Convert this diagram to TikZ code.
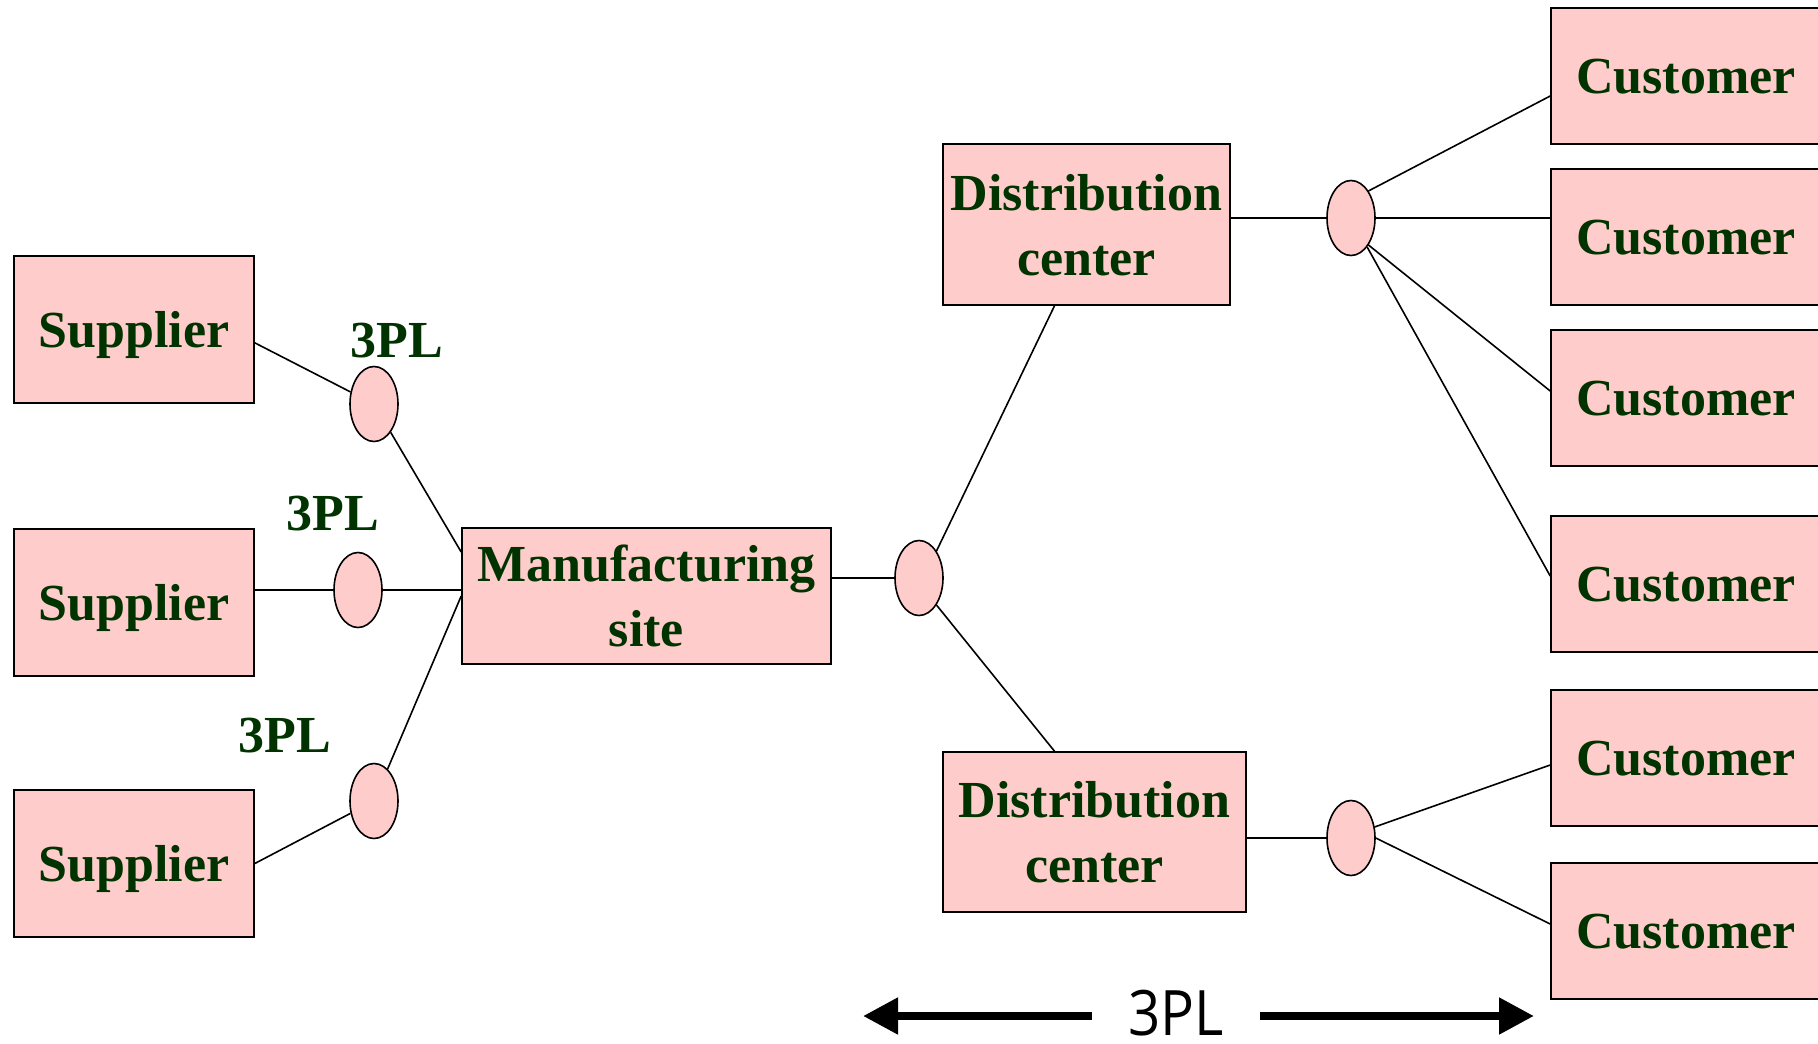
\documentclass[tikz,border=0pt]{standalone}
\usepackage{fontspec}
\setmainfont{Liberation Serif}
\newfontfamily\narrowsans[FakeStretch=0.9]{Open Sans}
\usepackage{tikz}
\usetikzlibrary{shapes}
\usetikzlibrary{arrows.meta}
\definecolor{boxpink}{HTML}{FFCCCC}
\definecolor{darkgreen}{HTML}{003300}

\begin{document}
\begin{tikzpicture}[x=0.75pt, y=-0.75pt,
				internal/.style={draw, rectangle, fill=boxpink, text=darkgreen, inner sep=0pt, text depth=0pt, line width=1.2pt, font=\fontsize{39}{48.75}\selectfont\bfseries},
				hub/.style={draw, ellipse, fill=boxpink, minimum width=36pt, minimum height=56.25pt, inner sep=0pt, line width=1.2pt},
				tag/.style={text=darkgreen, inner sep=0pt, font=\fontsize{39}{48.75}\selectfont\bfseries},
				link/.style={line width=1.2pt},
				span/.style={-{Triangle[length=26.25pt, width=26.25pt]}, line width=6pt},
				every text node part/.style={align=center}]
				\useasboundingbox (0,0) rectangle (1818,1043);
				\clip (0,0) rectangle (1818,1043);
				
				\node[internal, minimum width=180pt, minimum height=110.25pt](supplier1) at (134, 329.5) {Supplier};
				\node[internal, minimum width=180pt, minimum height=110.25pt](supplier2) at (134, 602.5) {Supplier};
				\node[internal, minimum width=180pt, minimum height=110.25pt](supplier3) at (134, 863.5) {Supplier};
				
				\node[hub](pl1) at (374, 404) {};
				\node[hub](pl2) at (358, 590) {};
				\node[hub](pl3) at (374, 801) {};
				\node[tag](lbl1) at (397, 341) {3PL};
				\node[tag](lbl2) at (333, 514) {3PL};
				\node[tag](lbl3) at (285, 736) {3PL};
				
				\node[internal, minimum width=276.75pt, minimum height=102pt](site) at (646.5, 596) {Manufacturing\\site};
				\node[hub](pl4) at (919, 578) {};
				
				\node[internal, minimum width=215.25pt, minimum height=120.75pt](dist1) at (1086.5, 224.5) {Distribution\\center};
				\node[internal, minimum width=227.25pt, minimum height=120pt](dist2) at (1094.5, 832) {Distribution\\center};
				\node[hub](pl5) at (1351, 218) {};
				\node[hub](pl6) at (1351, 838) {};
				
				\node[internal, minimum width=202.5pt, minimum height=102.4pt](cust1) at (1686, 76) {Customer};
				\node[internal, minimum width=202.5pt, minimum height=102.4pt](cust2) at (1686, 237) {Customer};
				\node[internal, minimum width=202.5pt, minimum height=102.4pt](cust3) at (1686, 398) {Customer};
				\node[internal, minimum width=202.5pt, minimum height=102.4pt](cust4) at (1686, 584) {Customer};
				\node[internal, minimum width=202.5pt, minimum height=102.4pt](cust5) at (1686, 758) {Customer};
				\node[internal, minimum width=202.5pt, minimum height=102.4pt](cust6) at (1686, 931) {Customer};
				
				\draw[link] ([yshift=-10pt]supplier1.east) edge (pl1);
				\draw[link] (supplier2.east |- pl2) edge (pl2);
				\draw[link] (supplier3.east) edge (pl3);
				\draw[link] (pl1) edge ([yshift=33pt]site.west);
				\draw[link] (pl2) edge (pl2 -| site.west);
				\draw[link] (pl3) edge (site.west);
				
				\draw[link] (site.east |- pl4) edge (pl4);
				\draw[link] (pl4.north east) edge ([xshift=-24pt]dist1.south);
				\draw[link] (pl4.south east) edge ([xshift=-30pt]dist2.north);
				
				\draw[link] (dist1.east |- pl5) edge (pl5);
				\draw[link] (pl5.north east) edge ([yshift=-15pt]cust1.west);
				\draw[link] (pl5) edge (pl5 -| cust2.west);
				\draw[link] (pl5.south east) edge ([yshift=5.25pt]cust3.west);
				\draw[link] (pl5) edge ([yshift=6pt]cust4.west);
				
				\draw[link] (dist2.east |- pl6) edge (pl6);
				\draw[link] (pl6.25) edge ([yshift=-5.25pt]cust5.west);
				\draw[link] (pl6.east) edge ([yshift=5.25pt]cust6.west);
				
				\node[font=\narrowsans\fontsize{47}{50}\selectfont, inner xsep=27pt, inner ysep=0pt](span) at (1176, 1013) {3PL};
				\coordinate (spanl) at (863, 1016);
				\coordinate (spanr) at (1534, 1016);
				\draw[span] (span.west |- spanl) -- (spanl);
				\draw[span] (span.east |- spanr) -- (spanr);
				
			\end{tikzpicture}
\end{document}
